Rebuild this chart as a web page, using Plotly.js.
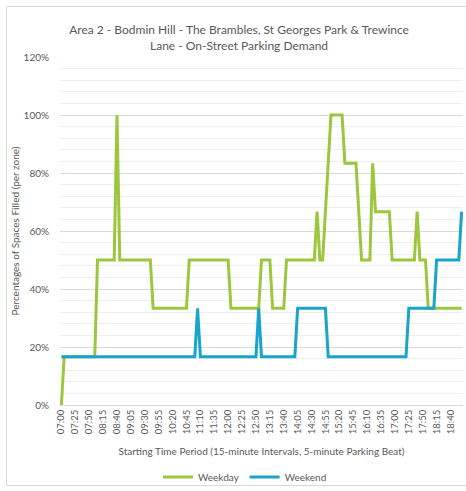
<!DOCTYPE html>
<html>
<head>
<meta charset="utf-8">
<script src="https://cdn.plot.ly/plotly-3.0.1.min.js"></script>
<style>
html,body{margin:0;padding:0;background:#fff;}
#wrap{position:relative;width:466px;height:491px;overflow:hidden;}
#frame{position:absolute;left:6px;top:6px;width:470px;height:480px;border:1px solid #d9d9d9;box-sizing:border-box;pointer-events:none;}
#chart{position:absolute;left:0;top:0;width:466px;height:491px;}
</style>
</head>
<body>
<div id="wrap"><div id="frame"></div><div id="chart"></div></div>
<script>
const times = ["07:00","07:05","07:10","07:15","07:20","07:25","07:30","07:35","07:40","07:45","07:50","07:55",
"08:00","08:05","08:10","08:15","08:20","08:25","08:30","08:35","08:40","08:45","08:50","08:55",
"09:00","09:05","09:10","09:15","09:20","09:25","09:30","09:35","09:40","09:45","09:50","09:55",
"10:00","10:05","10:10","10:15","10:20","10:25","10:30","10:35","10:40","10:45","10:50","10:55",
"11:00","11:05","11:10","11:15","11:20","11:25","11:30","11:35","11:40","11:45","11:50","11:55",
"12:00","12:05","12:10","12:15","12:20","12:25","12:30","12:35","12:40","12:45","12:50","12:55",
"13:00","13:05","13:10","13:15","13:20","13:25","13:30","13:35","13:40","13:45","13:50","13:55",
"14:00","14:05","14:10","14:15","14:20","14:25","14:30","14:35","14:40","14:45","14:50","14:55",
"15:00","15:05","15:10","15:15","15:20","15:25","15:30","15:35","15:40","15:45","15:50","15:55",
"16:00","16:05","16:10","16:15","16:20","16:25","16:30","16:35","16:40","16:45","16:50","16:55",
"17:00","17:05","17:10","17:15","17:20","17:25","17:30","17:35","17:40","17:45","17:50","17:55",
"18:00","18:05","18:10","18:15","18:20","18:25","18:30","18:35","18:40","18:45","18:50","18:55",
"19:00"];

const weekday = [0,
16.67,16.67,16.67,16.67,16.67,16.67,16.67,16.67,16.67,16.67,16.67,16.67,
50,50,50,50,50,50,50,
100,
50,50,50,50,50,50,50,50,50,50,50,50,
33.33,33.33,33.33,33.33,33.33,33.33,33.33,33.33,33.33,33.33,33.33,33.33,33.33,
50,50,50,50,50,50,50,50,50,50,50,50,50,50,50,
33.33,33.33,33.33,33.33,33.33,33.33,33.33,33.33,33.33,33.33,33.33,
50,50,50,50,
33.33,33.33,33.33,33.33,33.33,
50,50,50,50,50,50,50,50,50,50,50,
66.67,
50,50,
66.67,83.33,
100,100,100,100,100,
83.33,83.33,83.33,83.33,83.33,
66.67,
50,50,50,50,
83.33,
66.67,66.67,66.67,66.67,66.67,66.67,
50,50,50,50,50,50,50,50,50,
66.67,
50,50,50,
33.33,33.33,33.33,33.33,33.33,33.33,33.33,33.33,33.33,33.33,33.33,33.33,33.33];

const weekend = [
16.67,16.67,16.67,16.67,16.67,16.67,16.67,16.67,16.67,16.67,16.67,16.67,16.67,16.67,16.67,16.67,16.67,16.67,16.67,16.67,
16.67,16.67,16.67,16.67,16.67,16.67,16.67,16.67,16.67,16.67,16.67,16.67,16.67,16.67,16.67,16.67,16.67,16.67,16.67,16.67,
16.67,16.67,16.67,16.67,16.67,16.67,16.67,16.67,16.67,
33.33,
16.67,16.67,16.67,16.67,16.67,16.67,16.67,16.67,16.67,16.67,16.67,16.67,16.67,16.67,16.67,16.67,16.67,16.67,16.67,16.67,16.67,
33.33,
16.67,16.67,16.67,16.67,16.67,16.67,16.67,16.67,16.67,16.67,16.67,16.67,16.67,
33.33,33.33,33.33,33.33,33.33,33.33,33.33,33.33,33.33,33.33,33.33,
16.67,16.67,16.67,16.67,16.67,16.67,16.67,16.67,16.67,16.67,16.67,16.67,16.67,16.67,16.67,16.67,16.67,16.67,16.67,16.67,
16.67,16.67,16.67,16.67,16.67,16.67,16.67,16.67,16.67,
33.33,33.33,33.33,33.33,33.33,33.33,33.33,33.33,33.33,33.33,
50,50,50,50,50,50,50,50,50,
66.67];

const yTicks = [0,20,40,60,80,100,120];
const yTickText = ["0%","20%","40%","60%","80%","100%","120%"];
const xTickVals = times.filter((t,i)=>i%5===0);

const FONT = "Lato, 'Open Sans', sans-serif";
const GREY = "#595959";

const traces = [
  {x: times, y: weekday, type:'scatter', mode:'lines', name:'Weekday',
   line:{color:'#9cc73c', width:3}},
  {x: times, y: weekend, type:'scatter', mode:'lines', name:'Weekend',
   line:{color:'#19a4cc', width:3}}
];

const layout = {
  width:466, height:491,
  margin:{l:60, r:3, t:57, b:86},
  paper_bgcolor:'rgba(0,0,0,0)', plot_bgcolor:'#fff',
  font:{family:FONT, color:GREY},
  title:{text:"Area 2 - Bodmin Hill - The Brambles, St Georges Park & Trewince<br>Lane - On-Street Parking Demand",
    font:{family:FONT, size:12, color:GREY}, x:0.513, xref:'container', xanchor:'center',
    y:1-34/491, yref:'container', yanchor:'middle'},
  xaxis:{type:'category', range:[-0.5, times.length-0.5], tickmode:'array', tickvals:xTickVals,
    tickangle:-90, tickfont:{size:9.5, color:GREY, family:FONT}, showgrid:false,
    showline:true, linecolor:'#d9d9d9', linewidth:1, ticks:'', zeroline:false,
    title:{text:"Starting Time Period (15-minute Intervals, 5-minute Parking Beat)", font:{size:10, color:GREY, family:FONT}, standoff:14}},
  yaxis:{range:[0,120], tickmode:'array', tickvals:yTicks, ticktext:yTickText,
    tickfont:{size:10, color:GREY, family:FONT}, showgrid:true, gridcolor:'#d9d9d9', gridwidth:1,
    minor:{dtick:4, tick0:0, showgrid:true, gridcolor:'#eeeeee', gridwidth:1},
    zeroline:false, showline:false, ticklabelstandoff:10,
    title:{text:"Percentages of Spaces Filled (per zone)", font:{size:10, color:GREY, family:FONT}, standoff:2}},
  legend:{orientation:'h', x:245/466, xref:'container', xanchor:'center', y:1-477/491, yref:'container', yanchor:'middle',
    font:{size:10, color:GREY, family:FONT}, itemwidth:30},
  showlegend:true
};

Plotly.newPlot('chart', traces, layout, {displayModeBar:false, staticPlot:true});
</script>
</body>
</html>
